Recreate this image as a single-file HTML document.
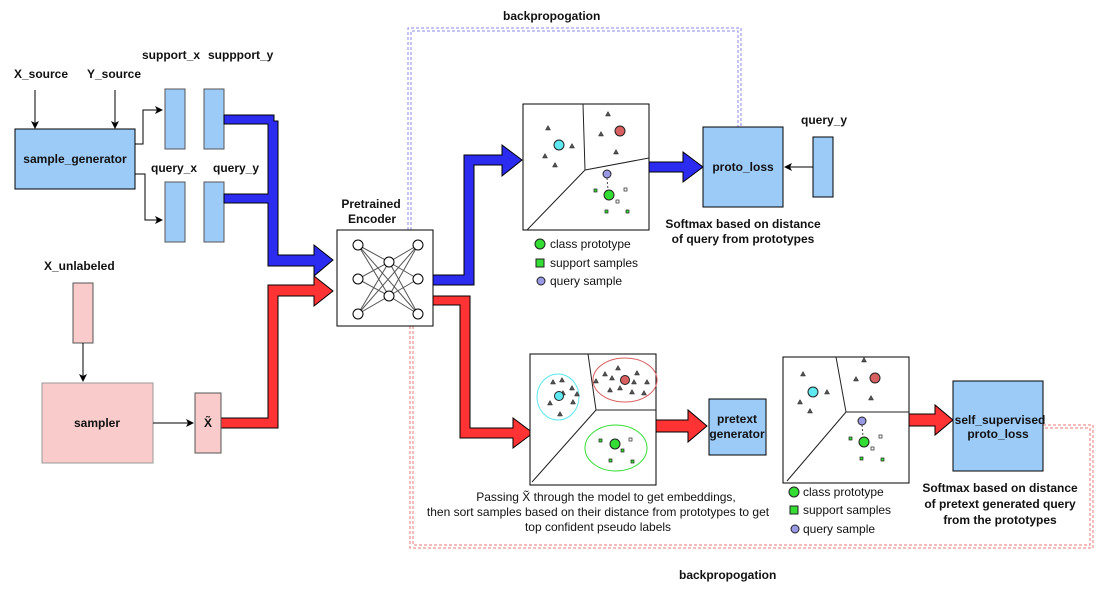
<!DOCTYPE html>
<html><head><meta charset="utf-8"><style>
html,body{margin:0;padding:0;background:#fff;}
svg{display:block;font-family:"Liberation Sans",Arial,sans-serif;}
.b{font-weight:bold;font-size:12px;fill:#111;}
.n{font-size:12px;fill:#111;}
</style></head><body>
<svg width="1096" height="590" viewBox="0 0 1096 590" xmlns="http://www.w3.org/2000/svg">
<defs>
<marker id="ah" markerWidth="8" markerHeight="8" refX="7" refY="4" orient="auto" markerUnits="userSpaceOnUse"><path d="M0,0 L8,4 L0,8 L2,4 z" fill="#000"/></marker>
<g id="tri"><path d="M0,-2.5 L2.5,2 L-2.5,2 z" fill="#555" stroke="#222" stroke-width="0.5"/></g>
</defs>

<!-- backprop dashed lines -->
<g fill="none" stroke="#8888ee" stroke-width="1" stroke-dasharray="3,2">
<path d="M408,230 L408,28 L741,28 L741,127"/>
<path d="M411,230 L411,31 L738,31 L738,127"/>
</g>
<g fill="none" stroke="#ee7777" stroke-width="1" stroke-dasharray="3,2">
<path d="M410,326 L410,548 L1093,548 L1093,425 L1043,425"/>
<path d="M413,326 L413,545 L1090,545 L1090,428 L1043,428"/>
</g>
<text class="b" x="503" y="20">backpropogation</text>
<text class="b" x="679" y="579">backpropogation</text>

<!-- left top -->
<text class="b" x="14" y="78">X_source</text>
<text class="b" x="87" y="78">Y_source</text>
<line x1="35" y1="90" x2="35" y2="128" stroke="#000" marker-end="url(#ah)"/>
<line x1="115" y1="90" x2="115" y2="128" stroke="#000" marker-end="url(#ah)"/>
<rect x="15" y="129" width="120" height="60" fill="#9dcbf8" stroke="#000"/>
<text class="b" x="75" y="163" text-anchor="middle">sample_generator</text>
<text class="b" x="142" y="59">support_x</text>
<text class="b" x="208" y="59">suppport_y</text>
<text class="b" x="151" y="172">query_x</text>
<text class="b" x="213" y="172">query_y</text>
<path d="M135,144 L143,144 L143,110 L162,110" fill="none" stroke="#000" marker-end="url(#ah)"/>
<path d="M135,174 L145,174 L145,220 L162,220" fill="none" stroke="#000" marker-end="url(#ah)"/>
<g fill="#9dcbf8" stroke="#555">
<rect x="165" y="89" width="20" height="60"/><rect x="204" y="89" width="20" height="60"/>
<rect x="165" y="182" width="20" height="60"/><rect x="204" y="182" width="20" height="60"/>
</g>
<!-- blue to encoder -->
<path d="M224,115 L274,115 L274,121 L278,121 L278,255 L314,255 L314,245 L333,260 L314,276 L314,266 L268,266 L268,203 L224,203 L224,194 L268,194 L268,124 L224,124 z" fill="#2c2cf0" stroke="#000" stroke-width="1"/>
<!-- red to encoder -->
<path d="M221,418 L268,418 L268,285 L314,285 L314,276 L333,291 L314,306 L314,296 L278,296 L278,428 L221,428 z" fill="#f33" stroke="#000"/>

<!-- unlabeled -->
<text class="b" x="44" y="270">X_unlabeled</text>
<rect x="73" y="283" width="20" height="60" fill="#f9cbcb" stroke="#555"/>
<line x1="83" y1="343" x2="83" y2="381" stroke="#000" marker-end="url(#ah)"/>
<rect x="42" y="383" width="111" height="80" fill="#f9cbcb" stroke="#999"/>
<text class="b" x="97" y="427" text-anchor="middle">sampler</text>
<line x1="153" y1="423" x2="193" y2="423" stroke="#000" marker-end="url(#ah)"/>
<rect x="195" y="393" width="26" height="60" fill="#f9cbcb" stroke="#555"/>
<text class="b" x="208" y="427" text-anchor="middle">X̃</text>

<!-- encoder -->
<text class="b" x="371" y="208" text-anchor="middle">Pretrained</text>
<text class="b" x="372" y="223" text-anchor="middle">Encoder</text>
<rect x="337" y="230" width="96" height="96" fill="#fff" stroke="#000"/>
<g stroke="#555" stroke-width="1">
<line x1="358" y1="245" x2="389" y2="262"/><line x1="358" y1="245" x2="389" y2="296"/>
<line x1="358" y1="279" x2="389" y2="262"/><line x1="358" y1="279" x2="389" y2="296"/>
<line x1="358" y1="314" x2="389" y2="262"/><line x1="358" y1="314" x2="389" y2="296"/>
<line x1="418" y1="245" x2="389" y2="262"/><line x1="418" y1="245" x2="389" y2="296"/>
<line x1="418" y1="279" x2="389" y2="262"/><line x1="418" y1="279" x2="389" y2="296"/>
<line x1="418" y1="314" x2="389" y2="262"/><line x1="418" y1="314" x2="389" y2="296"/>
<line x1="358" y1="245" x2="418" y2="314"/><line x1="418" y1="245" x2="358" y2="314"/>
</g>
<g fill="#fff" stroke="#000">
<circle cx="358" cy="245" r="5"/><circle cx="358" cy="279" r="5"/><circle cx="358" cy="314" r="5"/>
<circle cx="389" cy="262" r="5"/><circle cx="389" cy="296" r="5"/>
<circle cx="418" cy="245" r="5"/><circle cx="418" cy="279" r="5"/><circle cx="418" cy="314" r="5"/>
</g>

<!-- blue from encoder -->
<path d="M433,275 L464,275 L464,155 L502,155 L502,145 L522,160 L502,176 L502,165 L474,165 L474,285 L433,285 z" fill="#2c2cf0" stroke="#000"/>
<!-- red from encoder -->
<path d="M433,296 L470,296 L470,428 L513,428 L513,418 L533,433 L513,448 L513,438 L460,438 L460,305 L433,305 z" fill="#f33" stroke="#000"/>

<!-- top embedding -->
<rect x="523" y="104" width="126" height="126" fill="#fff" stroke="#000"/>
<g stroke="#222" fill="none"><path d="M583,104 L585,170 L649,158 M585,170 L527,230"/></g>
<g>
<use href="#tri" x="548" y="128"/><use href="#tri" x="572" y="146"/><use href="#tri" x="545" y="156"/><use href="#tri" x="555" y="165"/>
<use href="#tri" x="608" y="114"/><use href="#tri" x="601" y="134"/><use href="#tri" x="616" y="152"/>
</g>
<circle cx="559" cy="145" r="5" fill="#5ee8f0" stroke="#222"/>
<circle cx="620" cy="131" r="5" fill="#d96060" stroke="#222"/>
<circle cx="607" cy="174" r="4" fill="#9999e6" stroke="#222"/>
<line x1="607" y1="178" x2="608" y2="190" stroke="#444" stroke-dasharray="2,2"/>
<circle cx="609" cy="195" r="5" fill="#33dd33" stroke="#222"/>
<g stroke="#222" stroke-width="0.7"><rect x="594" y="189" width="3" height="3" fill="#3d3"/><rect x="624" y="188" width="3" height="3" fill="#fff"/><rect x="616" y="200" width="3" height="3" fill="#fff"/><rect x="605" y="210" width="3" height="3" fill="#3d3"/><rect x="626" y="210" width="3" height="3" fill="#3d3"/></g>
<circle cx="540" cy="244" r="5" fill="#33dd33" stroke="#222"/>
<text class="n" x="550" y="248">class prototype</text>
<rect x="536" y="259" width="8" height="8" fill="#33dd33" stroke="#222"/>
<text class="n" x="550" y="267">support samples</text>
<circle cx="541" cy="281" r="4" fill="#9999e6" stroke="#222"/>
<text class="n" x="550" y="285">query sample</text>

<path d="M649,162 L683,162 L683,152 L703,167 L683,182 L683,172 L649,172 z" fill="#2c2cf0" stroke="#000"/>
<rect x="703" y="127" width="80" height="80" fill="#9dcbf8" stroke="#000"/>
<text class="b" x="743" y="171" text-anchor="middle">proto_loss</text>
<text class="b" x="801" y="124">query_y</text>
<rect x="813" y="137" width="20" height="60" fill="#9dcbf8" stroke="#000"/>
<line x1="813" y1="167" x2="785" y2="167" stroke="#000" marker-end="url(#ah)"/>
<text class="b" x="743" y="228" text-anchor="middle">Softmax based on distance</text>
<text class="b" x="743" y="243" text-anchor="middle">of query from prototypes</text>

<!-- bottom embedding -->
<rect x="530" y="354" width="126" height="131" fill="#fff" stroke="#000"/>
<g stroke="#222" fill="none"><path d="M588,354 L596,410 L656,410 M596,410 L532,482"/></g>
<ellipse cx="558" cy="397" rx="21" ry="23" fill="none" stroke="#5ee8f0"/>
<ellipse cx="625" cy="380" rx="32" ry="22" fill="none" stroke="#d96060"/>
<ellipse cx="616" cy="448" rx="31" ry="23" fill="none" stroke="#33dd33"/>
<g>
<use href="#tri" x="553" y="382"/><use href="#tri" x="562" y="380"/><use href="#tri" x="572" y="388"/><use href="#tri" x="577" y="394"/><use href="#tri" x="563" y="393"/><use href="#tri" x="550" y="403"/><use href="#tri" x="573" y="402"/><use href="#tri" x="560" y="414"/>
<use href="#tri" x="618" y="368"/><use href="#tri" x="605" y="374"/><use href="#tri" x="612" y="378"/><use href="#tri" x="596" y="381"/><use href="#tri" x="637" y="373"/><use href="#tri" x="634" y="382"/><use href="#tri" x="647" y="382"/><use href="#tri" x="620" y="388"/><use href="#tri" x="610" y="390"/><use href="#tri" x="632" y="392"/><use href="#tri" x="644" y="393"/>
</g>
<circle cx="559" cy="396" r="4.5" fill="#5ee8f0" stroke="#222"/>
<circle cx="625" cy="380" r="4.5" fill="#d96060" stroke="#222"/>
<circle cx="615" cy="444" r="5" fill="#33dd33" stroke="#222"/>
<g stroke="#222" stroke-width="0.7"><rect x="599" y="439" width="3" height="3" fill="#3d3"/><rect x="629" y="438" width="3" height="3" fill="#fff"/><rect x="621" y="449" width="3" height="3" fill="#3d3"/><rect x="609" y="459" width="3" height="3" fill="#3d3"/><rect x="631" y="460" width="3" height="3" fill="#3d3"/></g>
<text class="n" x="606" y="501" text-anchor="middle">Passing X̃ through the model to get embeddings,</text>
<text class="n" x="598" y="516" text-anchor="middle">then sort samples based on their distance from prototypes to get</text>
<text class="n" x="598" y="531" text-anchor="middle">top confident pseudo labels</text>

<path d="M656,420 L688,420 L688,410 L707,426 L688,442 L688,432 L656,432 z" fill="#f33" stroke="#000"/>
<rect x="709" y="399" width="57" height="56" fill="#9dcbf8" stroke="#000"/>
<text class="b" x="737" y="423" text-anchor="middle">pretext</text>
<text class="b" x="737" y="438" text-anchor="middle">generator</text>

<!-- third embedding -->
<rect x="783" y="357" width="126" height="126" fill="#fff" stroke="#000"/>
<g stroke="#222" fill="none"><path d="M836,357 L846,412 L909,412 M846,412 L787,481"/></g>
<g>
<use href="#tri" x="803" y="374"/><use href="#tri" x="827" y="392"/><use href="#tri" x="800" y="402"/><use href="#tri" x="810" y="411"/>
<use href="#tri" x="864" y="360"/><use href="#tri" x="856" y="379"/><use href="#tri" x="871" y="398"/>
</g>
<circle cx="813" cy="392" r="5" fill="#5ee8f0" stroke="#222"/>
<circle cx="875" cy="378" r="5" fill="#d96060" stroke="#222"/>
<circle cx="862" cy="421" r="4" fill="#9999e6" stroke="#222"/>
<line x1="862" y1="425" x2="863" y2="437" stroke="#444" stroke-dasharray="2,2"/>
<circle cx="864" cy="442" r="5" fill="#33dd33" stroke="#222"/>
<g stroke="#222" stroke-width="0.7"><rect x="849" y="437" width="3" height="3" fill="#3d3"/><rect x="879" y="435" width="3" height="3" fill="#fff"/><rect x="871" y="447" width="3" height="3" fill="#fff"/><rect x="860" y="457" width="3" height="3" fill="#3d3"/><rect x="881" y="458" width="3" height="3" fill="#3d3"/></g>
<circle cx="794" cy="492" r="5" fill="#33dd33" stroke="#222"/>
<text class="n" x="803" y="496">class prototype</text>
<rect x="790" y="506" width="8" height="8" fill="#33dd33" stroke="#222"/>
<text class="n" x="803" y="514">support samples</text>
<circle cx="795" cy="529" r="4" fill="#9999e6" stroke="#222"/>
<text class="n" x="803" y="533">query sample</text>

<path d="M909,414 L935,414 L935,405 L953,420 L935,435 L935,426 L909,426 z" fill="#f33" stroke="#000"/>
<rect x="953" y="381" width="90" height="90" fill="#9dcbf8" stroke="#000"/>
<text class="b" x="1000" y="424" text-anchor="middle">self_supervised</text>
<text class="b" x="998" y="438" text-anchor="middle">proto_loss</text>
<text class="b" x="1000" y="492" text-anchor="middle">Softmax based on distance</text>
<text class="b" x="1000" y="508" text-anchor="middle">of pretext generated query</text>
<text class="b" x="1000" y="524" text-anchor="middle">from the prototypes</text>
</svg>
</body></html>
